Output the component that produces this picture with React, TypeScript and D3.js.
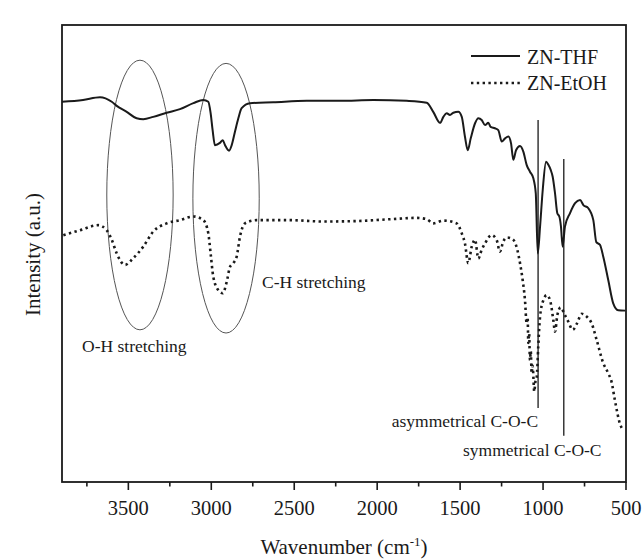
import React from "react";
import * as d3 from "d3";

// FTIR spectra, wavenumber (cm-1) against relative intensity (a.u.)
const thfWavenumber = [
  3900, 3773, 3671, 3600, 3570, 3510, 3450, 3410, 3350, 3269, 3189, 3108, 3048, 3018, 3004,
  2992, 2978, 2948, 2931, 2917, 2893, 2877, 2857, 2837, 2817, 2767, 2626, 2425, 2224, 2023,
  1822, 1701, 1662, 1621, 1601, 1581, 1561, 1541, 1511, 1490, 1471, 1454, 1436, 1410, 1390,
  1370, 1350, 1330, 1316, 1290, 1270, 1249, 1229, 1209, 1193, 1179, 1163, 1139, 1119, 1099,
  1079, 1059, 1044, 1032, 1018, 1002, 982, 968, 954, 942, 928, 914, 902, 892, 882, 868, 838,
  807, 777, 757, 727, 697, 679, 657, 637, 607, 577, 547, 504,
];
const thfIntensity = [
  83.2, 83.6, 84.2, 83.2, 82.3, 81.0, 79.6, 79.4, 79.9, 80.8, 81.6, 82.9, 83.6, 83.2, 80.7,
  77.0, 73.7, 74.2, 74.8, 73.7, 72.5, 73.7, 76.7, 79.6, 81.8, 82.9, 83.1, 83.4, 83.4, 83.6,
  83.4, 83.0, 81.0, 78.6, 79.9, 80.7, 80.3, 80.8, 81.0, 79.9, 75.6, 72.6, 75.2, 78.5, 79.6,
  79.2, 78.1, 78.6, 77.7, 77.4, 77.0, 74.5, 75.2, 75.6, 74.1, 70.5, 72.6, 73.5, 72.3, 69.4,
  67.9, 66.5, 63.2, 50.0, 55.9, 63.9, 70.1, 69.4, 68.3, 66.8, 63.2, 58.8, 58.1, 55.9, 51.5,
  55.9, 58.8, 61.0, 61.7, 60.6, 59.9, 57.3, 52.5, 51.9, 49.3, 44.2, 39.1, 37.6, 37.5,
];

const etohWavenumber = [
  3892, 3791, 3681, 3631, 3600, 3570, 3520, 3470, 3410, 3350, 3269, 3189, 3108, 3048, 3018,
  3004, 2988, 2958, 2931, 2907, 2887, 2867, 2847, 2827, 2797, 2726, 2526, 2325, 2123, 1923,
  1762, 1701, 1662, 1601, 1521, 1490, 1471, 1451, 1430, 1410, 1390, 1370, 1350, 1310, 1280,
  1260, 1240, 1219, 1183, 1155, 1139, 1123, 1109, 1099, 1093, 1089, 1084, 1079, 1074, 1069,
  1063, 1053, 1046, 1038, 1029, 1018, 998, 978, 958, 938, 928, 914, 894, 868, 848, 821, 797,
  767, 737, 707, 677, 637, 607, 587, 567, 537, 520,
];
const etohIntensity = [
  54.0, 55.1, 56.2, 55.1, 53.0, 50.0, 47.5, 49.0, 51.5, 54.8, 56.6, 57.3, 58.1, 57.3, 54.4,
  50.0, 44.9, 42.0, 41.3, 43.8, 47.1, 47.9, 49.3, 53.7, 56.6, 57.3, 57.3, 57.0, 57.1, 57.5,
  57.8, 57.5, 56.6, 57.2, 56.6, 54.4, 52.2, 47.9, 51.5, 53.0, 48.9, 50.8, 52.2, 54.0, 53.0,
  50.4, 52.6, 53.5, 53.1, 50.8, 47.9, 44.2, 39.8, 34.7, 36.0, 30.4, 32.5, 26.7, 28.6, 23.8,
  25.5, 19.8, 22.0, 23.0, 29.6, 36.2, 39.8, 40.9, 39.8, 35.4, 32.9, 36.5, 38.2, 36.5, 35.1,
  33.3, 34.6, 36.8, 36.2, 34.7, 31.1, 26.0, 23.8, 21.9, 17.9, 12.8, 11.4,
];

const xTicks = [3500, 3000, 2500, 2000, 1500, 1000, 500];
const xMinorTicks = [3750, 3250, 2750, 2250, 1750, 1250, 750];

const seriesNames = ["ZN-THF", "ZN-EtOH"];

// band regions circled on the plot: centre wavenumber, centre intensity, half-widths
const bandEllipses = [
  { label: "O-H stretching", cw: 3430, cv: 62.8, rw: 200, rv: 29.5 },
  { label: "C-H stretching", cw: 2911, cv: 62.1, rw: 200, rv: 29.5 },
];

// assignment markers: wavenumber, top and bottom intensity
const bandMarkers = [
  { label: "asymmetrical C-O-C", w: 1030, top: 79.2, bottom: 16.2 },
  { label: "symmetrical C-O-C", w: 875, top: 70.7, bottom: 10.1 },
];

const W = 644;
const H = 559;
const margin = { left: 62, right: 18, top: 25, bottom: 77 };
const serif = { fontFamily: '"Liberation Serif", "Times New Roman", Times, serif' };
const ink = "#1a1a1a";

export default function App() {
  const x = d3.scaleLinear().domain([3900, 500]).range([margin.left, W - margin.right]);
  const y = d3.scaleLinear().domain([0, 100]).range([H - margin.bottom, margin.top]);

  const line = d3
    .line<[number, number]>()
    .x((d) => x(d[0]))
    .y((d) => y(d[1]))
    .curve(d3.curveMonotoneX);

  const thf = thfWavenumber.map((w, i) => [w, thfIntensity[i]] as [number, number]);
  const etoh = etohWavenumber.map((w, i) => [w, etohIntensity[i]] as [number, number]);

  const x0 = margin.left;
  const x1 = W - margin.right;
  const y0 = margin.top;
  const y1 = H - margin.bottom;

  return (
    <svg
      width={W}
      height={H}
      style={{ position: "absolute", left: 0, top: 0, background: "#fff", ...serif }}
    >
      <rect x={0} y={0} width={W} height={H} fill="#fff" />

      {/* band ellipses */}
      {bandEllipses.map((e) => (
        <ellipse
          key={e.label}
          cx={x(e.cw)}
          cy={y(e.cv)}
          rx={Math.abs(x(e.cw - e.rw) - x(e.cw))}
          ry={Math.abs(y(e.cv + e.rv) - y(e.cv))}
          fill="none"
          stroke="#555"
          strokeWidth={1}
        />
      ))}

      {/* spectra */}
      <path d={line(thf) ?? ""} fill="none" stroke={ink} strokeWidth={2} strokeLinejoin="round" />
      <path
        d={line(etoh) ?? ""}
        fill="none"
        stroke={ink}
        strokeWidth={2.6}
        strokeDasharray="2.4 3.4"
      />

      {/* assignment markers */}
      {bandMarkers.map((m) => (
        <line
          key={m.label}
          x1={x(m.w)}
          x2={x(m.w)}
          y1={y(m.top)}
          y2={y(m.bottom)}
          stroke={ink}
          strokeWidth={1.3}
        />
      ))}

      {/* annotations */}
      <text x={82} y={352} fontSize={17.5} fill={ink} style={serif}>
        {bandEllipses[0].label}
      </text>
      <text x={262} y={288} fontSize={17.5} fill={ink} style={serif}>
        {bandEllipses[1].label}
      </text>
      <text x={x(bandMarkers[0].w)} y={427} fontSize={17.5} fill={ink} textAnchor="end" style={serif}>
        {bandMarkers[0].label}
      </text>
      <text x={463} y={456} fontSize={17.5} fill={ink} style={serif}>
        {bandMarkers[1].label}
      </text>

      {/* frame */}
      <rect x={x0} y={y0} width={x1 - x0} height={y1 - y0} fill="none" stroke={ink} strokeWidth={1.8} />

      {/* x axis ticks */}
      {xTicks.map((t) => (
        <g key={t}>
          <line x1={x(t)} x2={x(t)} y1={y1} y2={y1 + 8} stroke={ink} strokeWidth={1.6} />
          <text x={x(t)} y={515} fontSize={20.5} textAnchor="middle" fill={ink} style={serif}>
            {t}
          </text>
        </g>
      ))}
      {xMinorTicks.map((t) => (
        <line key={t} x1={x(t)} x2={x(t)} y1={y1} y2={y1 + 4.5} stroke={ink} strokeWidth={1.6} />
      ))}

      {/* axis titles */}
      <text x={(x0 + x1) / 2} y={554} fontSize={21} textAnchor="middle" fill={ink} style={serif}>
        Wavenumber (cm
        <tspan dy={-8} fontSize={13}>
          -1
        </tspan>
        <tspan dy={8}>)</tspan>
      </text>
      <text
        transform={`translate(40, ${(y0 + y1) / 2 + 1}) rotate(-90)`}
        fontSize={21}
        textAnchor="middle"
        fill={ink}
        style={serif}
      >
        Intensity (a.u.)
      </text>

      {/* legend */}
      <line x1={471} x2={520} y1={56} y2={56} stroke={ink} strokeWidth={2} />
      <text x={527} y={64} fontSize={20} fill={ink} style={serif}>
        {seriesNames[0]}
      </text>
      <line x1={471} x2={520} y1={83} y2={83} stroke={ink} strokeWidth={2.6} strokeDasharray="2.4 3.4" />
      <text x={527} y={90} fontSize={20} fill={ink} style={serif}>
        {seriesNames[1]}
      </text>
    </svg>
  );
}
